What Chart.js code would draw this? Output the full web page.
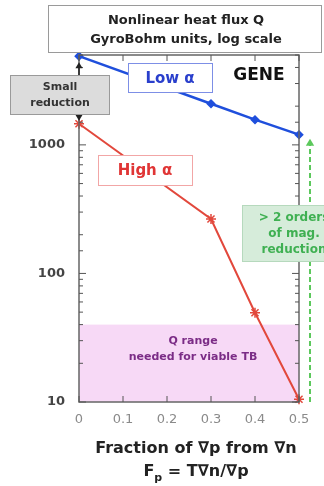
<!DOCTYPE html>
<html lang="en">
<head>
<meta charset="UTF-8">
<title>Nonlinear heat flux Q</title>
<script src="https://cdn.jsdelivr.net/npm/chart.js@4.4.1/dist/chart.umd.min.js"></script>
<style>
  html, body { margin: 0; padding: 0; background: #fff; }
  #wrap { position: relative; width: 324px; height: 486px; }
</style>
</head>
<body>
<div id="wrap"><canvas id="chart" width="324" height="486"></canvas></div>
<script>
// data
const fractions = [0, 0.3, 0.4, 0.5];
const lowAlpha = [4900, 2090, 1570, 1200];
const highAlpha = [1460, 265, 49.5, 10.5];
const xTicks = [0, 0.1, 0.2, 0.3, 0.4, 0.5];
const yLabelTicks = [10, 100, 1000];
const viableQ = [10, 40];   // pink band, Q range needed for viable TB

const FONT = "'DejaVu Sans', sans-serif";

function box(ctx, x, y, w, h, fill, stroke) {
  ctx.fillStyle = fill; ctx.fillRect(x, y, w, h);
  if (stroke) { ctx.strokeStyle = stroke; ctx.lineWidth = 1; ctx.strokeRect(x + 0.5, y + 0.5, w - 1, h - 1); }
}
function text(ctx, s, x, y, font, color, align) {
  ctx.font = font; ctx.fillStyle = color; ctx.textAlign = align || 'center'; ctx.textBaseline = 'middle';
  ctx.fillText(s, x, y);
}
function arrowHead(ctx, x, y, dir, size, color) {
  ctx.fillStyle = color; ctx.beginPath();
  ctx.moveTo(x, y); ctx.lineTo(x - size * 0.6, y - dir * size); ctx.lineTo(x + size * 0.6, y - dir * size);
  ctx.closePath(); ctx.fill();
}

// pink band drawn under the lines
const bandPlugin = {
  id: 'band',
  beforeDatasetsDraw(chart) {
    const { ctx, chartArea: a, scales: { y } } = chart;
    const top = y.getPixelForValue(viableQ[1]), bot = y.getPixelForValue(viableQ[0]);
    ctx.save();
    ctx.fillStyle = '#f7d9f6';
    ctx.fillRect(a.left, top, a.right - a.left, bot - top);
    text(ctx, 'Q range', (a.left + a.right) / 2 + 4, top + 17, "bold 11px " + FONT, '#7b2c86');
    text(ctx, 'needed for viable TB', (a.left + a.right) / 2 + 4, top + 33, "bold 11px " + FONT, '#7b2c86');
    ctx.restore();
  }
};

// frame, inward ticks and the labels / boxes on top
const overlayPlugin = {
  id: 'overlay',
  afterDraw(chart) {
    const { ctx, chartArea: a, scales: { x, y } } = chart;
    ctx.save();
    // frame
    ctx.strokeStyle = '#666'; ctx.lineWidth = 1.5;
    ctx.strokeRect(a.left, a.top, a.right - a.left, a.bottom - a.top);
    // inward ticks
    ctx.lineWidth = 1; ctx.strokeStyle = '#555';
    ctx.beginPath();
    y.ticks.forEach(t => {
      const py = y.getPixelForValue(t.value);
      const major = yLabelTicks.includes(t.value);
      const len = major ? 7 : 4;
      ctx.moveTo(a.left, py); ctx.lineTo(a.left + len, py);
      ctx.moveTo(a.right, py); ctx.lineTo(a.right - len, py);
    });
    xTicks.forEach(v => {
      const px = x.getPixelForValue(v);
      ctx.moveTo(px, a.bottom); ctx.lineTo(px, a.bottom - 6);
      ctx.moveTo(px, a.top); ctx.lineTo(px, a.top + 6);
    });
    ctx.stroke();

    // title box
    box(ctx, 48, 5, 274, 48, '#fff', '#9a9a9a');
    text(ctx, 'Nonlinear heat flux Q', 186, 21, "bold 13px " + FONT, '#222');
    text(ctx, 'GyroBohm units, log scale', 186, 40, "bold 13px " + FONT, '#222');

    // small reduction arrow between the two x=0 values
    const x0 = x.getPixelForValue(fractions[0]);
    const yTop = y.getPixelForValue(lowAlpha[0]), yBot = y.getPixelForValue(highAlpha[0]);
    ctx.strokeStyle = '#222'; ctx.lineWidth = 1.5;
    ctx.beginPath(); ctx.moveTo(x0, yTop + 8); ctx.lineTo(x0, yBot - 6); ctx.stroke();
    arrowHead(ctx, x0, yTop + 6, -1, 6, '#222');
    arrowHead(ctx, x0, yBot - 3, 1, 6, '#222');
    box(ctx, 10, 75, 100, 40, '#dcdcdc', '#9a9a9a');
    text(ctx, 'Small', 60, 87, "bold 11px " + FONT, '#333');
    text(ctx, 'reduction', 60, 103, "bold 11px " + FONT, '#333');

    // series labels
    box(ctx, 128, 63, 85, 30, '#fff', '#7d8fe6');
    text(ctx, 'Low α', 170, 79, "bold 15px " + FONT, '#2a3fcc');
    text(ctx, 'GENE', 259, 76, "bold 17px " + FONT, '#111');
    box(ctx, 98, 155, 95, 31, '#fff', '#f2a6a6');
    text(ctx, 'High α', 145, 171, "bold 15px " + FONT, '#e03535');

    // green dashed arrow: > 2 orders of magnitude
    const xEnd = x.getPixelForValue(fractions[fractions.length - 1]) + 11;
    const gTop = y.getPixelForValue(lowAlpha[lowAlpha.length - 1]) + 4;
    ctx.strokeStyle = '#5cc85c'; ctx.lineWidth = 2; ctx.setLineDash([5, 3]);
    ctx.beginPath(); ctx.moveTo(xEnd, a.bottom); ctx.lineTo(xEnd, gTop + 6); ctx.stroke();
    ctx.setLineDash([]);
    arrowHead(ctx, xEnd, gTop, -1, 7, '#5cc85c');
    box(ctx, 242, 205, 90, 57, '#d6ecda', '#b6d9bd');
    text(ctx, '> 2 orders', 294, 218, "bold 12px " + FONT, '#3fb052');
    text(ctx, 'of mag.', 294, 234, "bold 12px " + FONT, '#3fb052');
    text(ctx, 'reduction', 294, 250, "bold 12px " + FONT, '#3fb052');

    // x axis title with subscript
    const cx = 196;
    text(ctx, 'Fraction of ∇p from ∇n', cx, 449, "bold 16px " + FONT, '#222');
    ctx.font = "bold 16px " + FONT;
    const partA = 'F', partB = ' = T∇n/∇p';
    ctx.font = "bold 11px " + FONT; const wSub = ctx.measureText('p').width;
    ctx.font = "bold 16px " + FONT;
    const wA = ctx.measureText(partA).width, wB = ctx.measureText(partB).width;
    let sx = cx - (wA + wSub + wB) / 2;
    text(ctx, partA, sx, 472, "bold 16px " + FONT, '#222', 'left'); sx += wA;
    text(ctx, 'p', sx, 478, "bold 11px " + FONT, '#222', 'left'); sx += wSub;
    text(ctx, partB, sx, 472, "bold 16px " + FONT, '#222', 'left');
    ctx.restore();
  }
};

new Chart(document.getElementById('chart'), {
  type: 'line',
  data: {
    datasets: [
      {
        label: 'Low α',
        data: fractions.map((f, i) => ({ x: f, y: lowAlpha[i] })),
        borderColor: '#1f4fdc', backgroundColor: '#1f4fdc',
        borderWidth: 2.5, pointStyle: 'rectRot', pointRadius: 3, clip: false
      },
      {
        label: 'High α',
        data: fractions.map((f, i) => ({ x: f, y: highAlpha[i] })),
        borderColor: '#e2483c', backgroundColor: '#e2483c',
        borderWidth: 2, pointStyle: 'star', pointRadius: 5, pointBorderWidth: 1.5, clip: false
      }
    ]
  },
  options: {
    responsive: false,
    animation: false,
    layout: { padding: { top: 55, right: 25, left: 0, bottom: 0 } },
    plugins: { legend: { display: false }, tooltip: { enabled: false } },
    scales: {
      x: {
        type: 'linear', min: 0, max: 0.5,
        grid: { display: false, drawTicks: false },
        border: { display: false },
        afterBuildTicks: s => { s.ticks = xTicks.map(v => ({ value: v })); },
        afterFit: s => { s.height = 84; },
        ticks: {
          padding: 10, color: '#8a8a8a', font: { family: FONT, size: 13 },
          callback: v => v === 0 ? '0' : v.toFixed(1)
        }
      },
      y: {
        type: 'logarithmic', min: 10, max: 5000,
        grid: { display: false, drawTicks: false },
        border: { display: false },
        afterFit: s => { s.width = 79; },
        ticks: {
          padding: 14, color: '#444', autoSkip: false,
          font: { family: FONT, size: 13, weight: 'bold' },
          callback: v => yLabelTicks.includes(v) ? String(v) : ''
        }
      }
    }
  },
  plugins: [bandPlugin, overlayPlugin]
});
</script>
</body>
</html>
